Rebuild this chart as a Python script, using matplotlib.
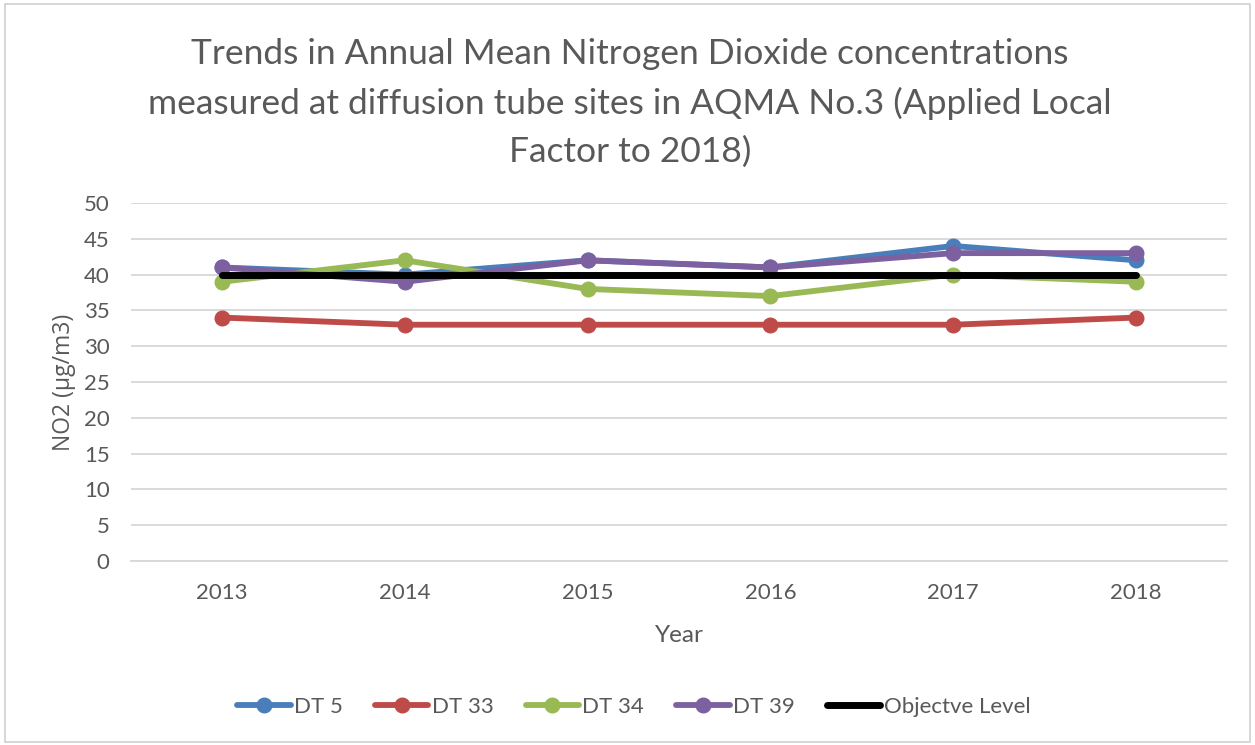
import matplotlib
matplotlib.use("Agg")
import matplotlib.pyplot as plt
from matplotlib.patches import Rectangle

years = ["2013", "2014", "2015", "2016", "2017", "2018"]
dt5 = [41, 40, 42, 41, 44, 42]
dt33 = [34, 33, 33, 33, 33, 34]
dt34 = [39, 42, 38, 37, 40, 39]
dt39 = [41, 39, 42, 41, 43, 43]
objective = [40, 40, 40, 40, 40, 40]
y_ticks = [0, 5, 10, 15, 20, 25, 30, 35, 40, 45, 50]

title = ("Trends in Annual Mean Nitrogen Dioxide concentrations\n"
         "measured at diffusion tube sites in AQMA No.3 (Applied Local\n"
         "Factor to 2018)")

plt.rcParams['font.family'] = ['Lato', 'DejaVu Sans']
grey = '#595959'

fig = plt.figure(figsize=(12.55, 7.45), dpi=100)
fig.patches.append(Rectangle((0.004, 0.004), 0.992, 0.99, transform=fig.transFigure,
                             fill=False, edgecolor='#d0d0d0', linewidth=1.2))
ax = fig.add_axes([0.104, 0.247, 0.874, 0.4805])

x = list(range(len(years)))
series = [("DT 5", dt5, '#4a7ebb'), ("DT 33", dt33, '#be4b48'),
          ("DT 34", dt34, '#98b954'), ("DT 39", dt39, '#7d60a0')]
for name, vals, c in series:
    ax.plot(x, vals, color=c, lw=4.2, marker='o', ms=10.5, label=name, solid_capstyle='round')
ax.plot(x, objective, color='black', lw=5, label='Objectve Level', solid_capstyle='round')

ax.set_xlim(-0.5, len(years) - 0.5)
ax.set_ylim(0, 50)
ax.set_yticks(y_ticks)
ax.set_xticks(x)
ax.set_xticklabels(years)
ax.grid(axis='y', color='#d9d9d9', lw=1.4)
ax.set_axisbelow(True)
for s in ax.spines.values():
    s.set_visible(False)
ax.spines['bottom'].set_visible(True)
ax.spines['bottom'].set_color('#d9d9d9')
ax.spines['bottom'].set_linewidth(1.4)
ax.tick_params(axis='both', length=0, labelsize=16, colors=grey)
ax.tick_params(axis='x', pad=16)
ax.tick_params(axis='y', pad=15)

ax.set_xlabel("Year", fontsize=17.5, color=grey, labelpad=16)
ax.set_ylabel("NO2 (µg/m3)", fontsize=16.5, color=grey, family=['Open Sans', 'DejaVu Sans'], labelpad=6)

fig.text(0.502, 0.775, title, ha='center', va='bottom', fontsize=25.5, color=grey,
         linespacing=1.6)

leg = ax.legend(loc='center', bbox_to_anchor=(0.505, 0.051), bbox_transform=fig.transFigure,
                ncol=5, frameon=False, fontsize=16, handlelength=2.4, columnspacing=1.45,
                handletextpad=0.15)
for t in leg.get_texts():
    t.set_color(grey)

fig.savefig("out.png", dpi=100)
